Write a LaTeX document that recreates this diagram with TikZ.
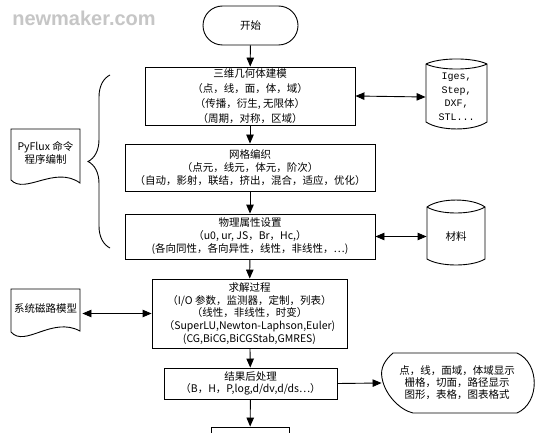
\documentclass[tikz,border=0pt]{standalone}
\usepackage{fontspec}
\setmainfont{Noto Sans CJK SC}
\newfontfamily\wmfont{Liberation Sans}
\newfontfamily\cadfont{Liberation Mono}
\usetikzlibrary{shapes.misc, arrows.meta, decorations.pathreplacing}
\begin{document}
\begin{tikzpicture}[x=1pt,y=-1pt,
  line width=0.9pt,
  box/.style={draw, align=center, inner sep=0pt, font=\fontsize{10.5}{13}\selectfont},
  txt/.style={align=center, inner sep=0pt, font=\fontsize{10.5}{13}\selectfont},
  arr/.style={-{Triangle[length=9pt,width=7.5pt]}},
  darr/.style={{Triangle[length=9pt,width=7.5pt]}-{Triangle[length=9pt,width=7.5pt]}}]
\clip (0,0) rectangle (538,433);
\fill[white] (0,0) rectangle (538,433);

% watermark
\node[font=\wmfont\fontsize{20}{20}\selectfont\bfseries, text=gray!45] (wm) at (84,18) {newmaker.com};

% main flow
\node[draw, rounded rectangle, minimum width=95pt, minimum height=39pt, inner sep=0pt, font=\fontsize{10.5}{13}\selectfont] (start) at (250.5,25.5) {开始};
\node[box, minimum width=210pt, minimum height=58pt, font=\fontsize{10.5}{15}\selectfont] (geo) at (250,96)
  {三维几何体建模\\（点，线，面，体，域）\\（传播，衍生, 无限体）\\（周期，对称，区域）};
\node[box, minimum width=250pt, minimum height=47pt] (mesh) at (250,167.5)
  {网格编织\\（点元，线元，体元，阶次）\\（自动，影射，联结，挤出，混合，适应，优化）};
\node[box, minimum width=250pt, minimum height=45pt] (phys) at (250,236.5)
  {物理属性设置\\（u0, ur, JS，Br，Hc,）\\(各向同性，各向异性，线性，非线性，…)};
\node[box, minimum width=195pt, minimum height=69pt, font=\fontsize{10.5}{12.7}\selectfont] (solve) at (249.5,313.5)
  {求解过程\\（I/O 参数，监测器，定制，列表）\\（线性，非线性，时变）\\（SuperLU,Newton-Laphson,Euler)\\(CG,BiCG,BiCGStab,GMRES)};
\node[box, minimum width=173pt, minimum height=31pt, font=\fontsize{10.5}{12}\selectfont] (post) at (250.5,383.5)
  {结果后处理\\（B，H，P,log,d/dv,d/ds…）};
\node[draw, rectangle, minimum width=78pt, minimum height=40pt] (end) at (250,447) {};

\draw[arr] (start) -- (geo);
\draw[arr] (geo) -- (mesh);
\draw[arr] (mesh) -- (phys);
\draw[arr] (phys) -- (solve);
\draw[arr] (solve) -- (post);
\draw[arr] (post) -- (end);

% cylinder CAD
\node[txt, minimum width=61pt, minimum height=58pt, font=\cadfont\fontsize{10}{13.5}\selectfont] (cad) at (456.5,97) {Iges,\\Step,\\DXF,\\STL...};
\draw (426,64) .. controls (440,57.3) and (473,57.3) .. (487,64) -- (487,122)
  .. controls (473,131.3) and (440,131.3) .. (426,122) -- cycle;
\draw (426,64) .. controls (440,70.7) and (473,70.7) .. (487,64);
\draw[darr] (geo.east) -- (cad.west);

% cylinder material
\node[txt, minimum width=58pt, minimum height=40pt] (mat) at (456,236.5) {材料};
\draw (427,207) .. controls (440,197.7) and (472,197.7) .. (485,207) -- (485,259)
  .. controls (472,267) and (440,267) .. (427,259) -- cycle;
\draw (427,207) .. controls (440,215) and (472,215) .. (485,207);
\draw[darr] (phys.east) -- (mat.west);

% PyFlux document
\node[txt, minimum width=69pt, font=\fontsize{10.5}{12.5}\selectfont] (py) at (45.5,153) {PyFlux 命令\\程序编制};
\draw (11,180) -- (11,129) -- (80,129) -- (80,183)
  .. controls (55,165) and (25,195) .. (11,180);
\draw[decorate, decoration={brace, amplitude=22pt, aspect=0.5}] (110,248) -- (110,75);

% magnetic circuit document
\node[txt, minimum width=69pt] (sys) at (45.5,308) {系统磁路模型};
\draw (11,332) -- (11,289) -- (80,289) -- (80,331)
  .. controls (52,316) and (25,348) .. (11,332);
\draw[darr, shorten <=2pt] (solve.west -| sys.east) -- (solve.west);

% output display
\node[txt, minimum width=150pt, font=\fontsize{10.5}{12}\selectfont] (out) at (457,383)
  {点，线，面域，体域显示\\栅格，切面，路径显示\\图形，表格，图表格式};
\draw (393,353) -- (517,353) .. controls (540,363) and (540,403) .. (517,413) -- (413,413)
  .. controls (400,410) and (385,395) .. (382,378) .. controls (380,368) and (385,360) .. (393,353) -- cycle;
\draw[arr] (post.east) -- (out.west);
\end{tikzpicture}
\end{document}
